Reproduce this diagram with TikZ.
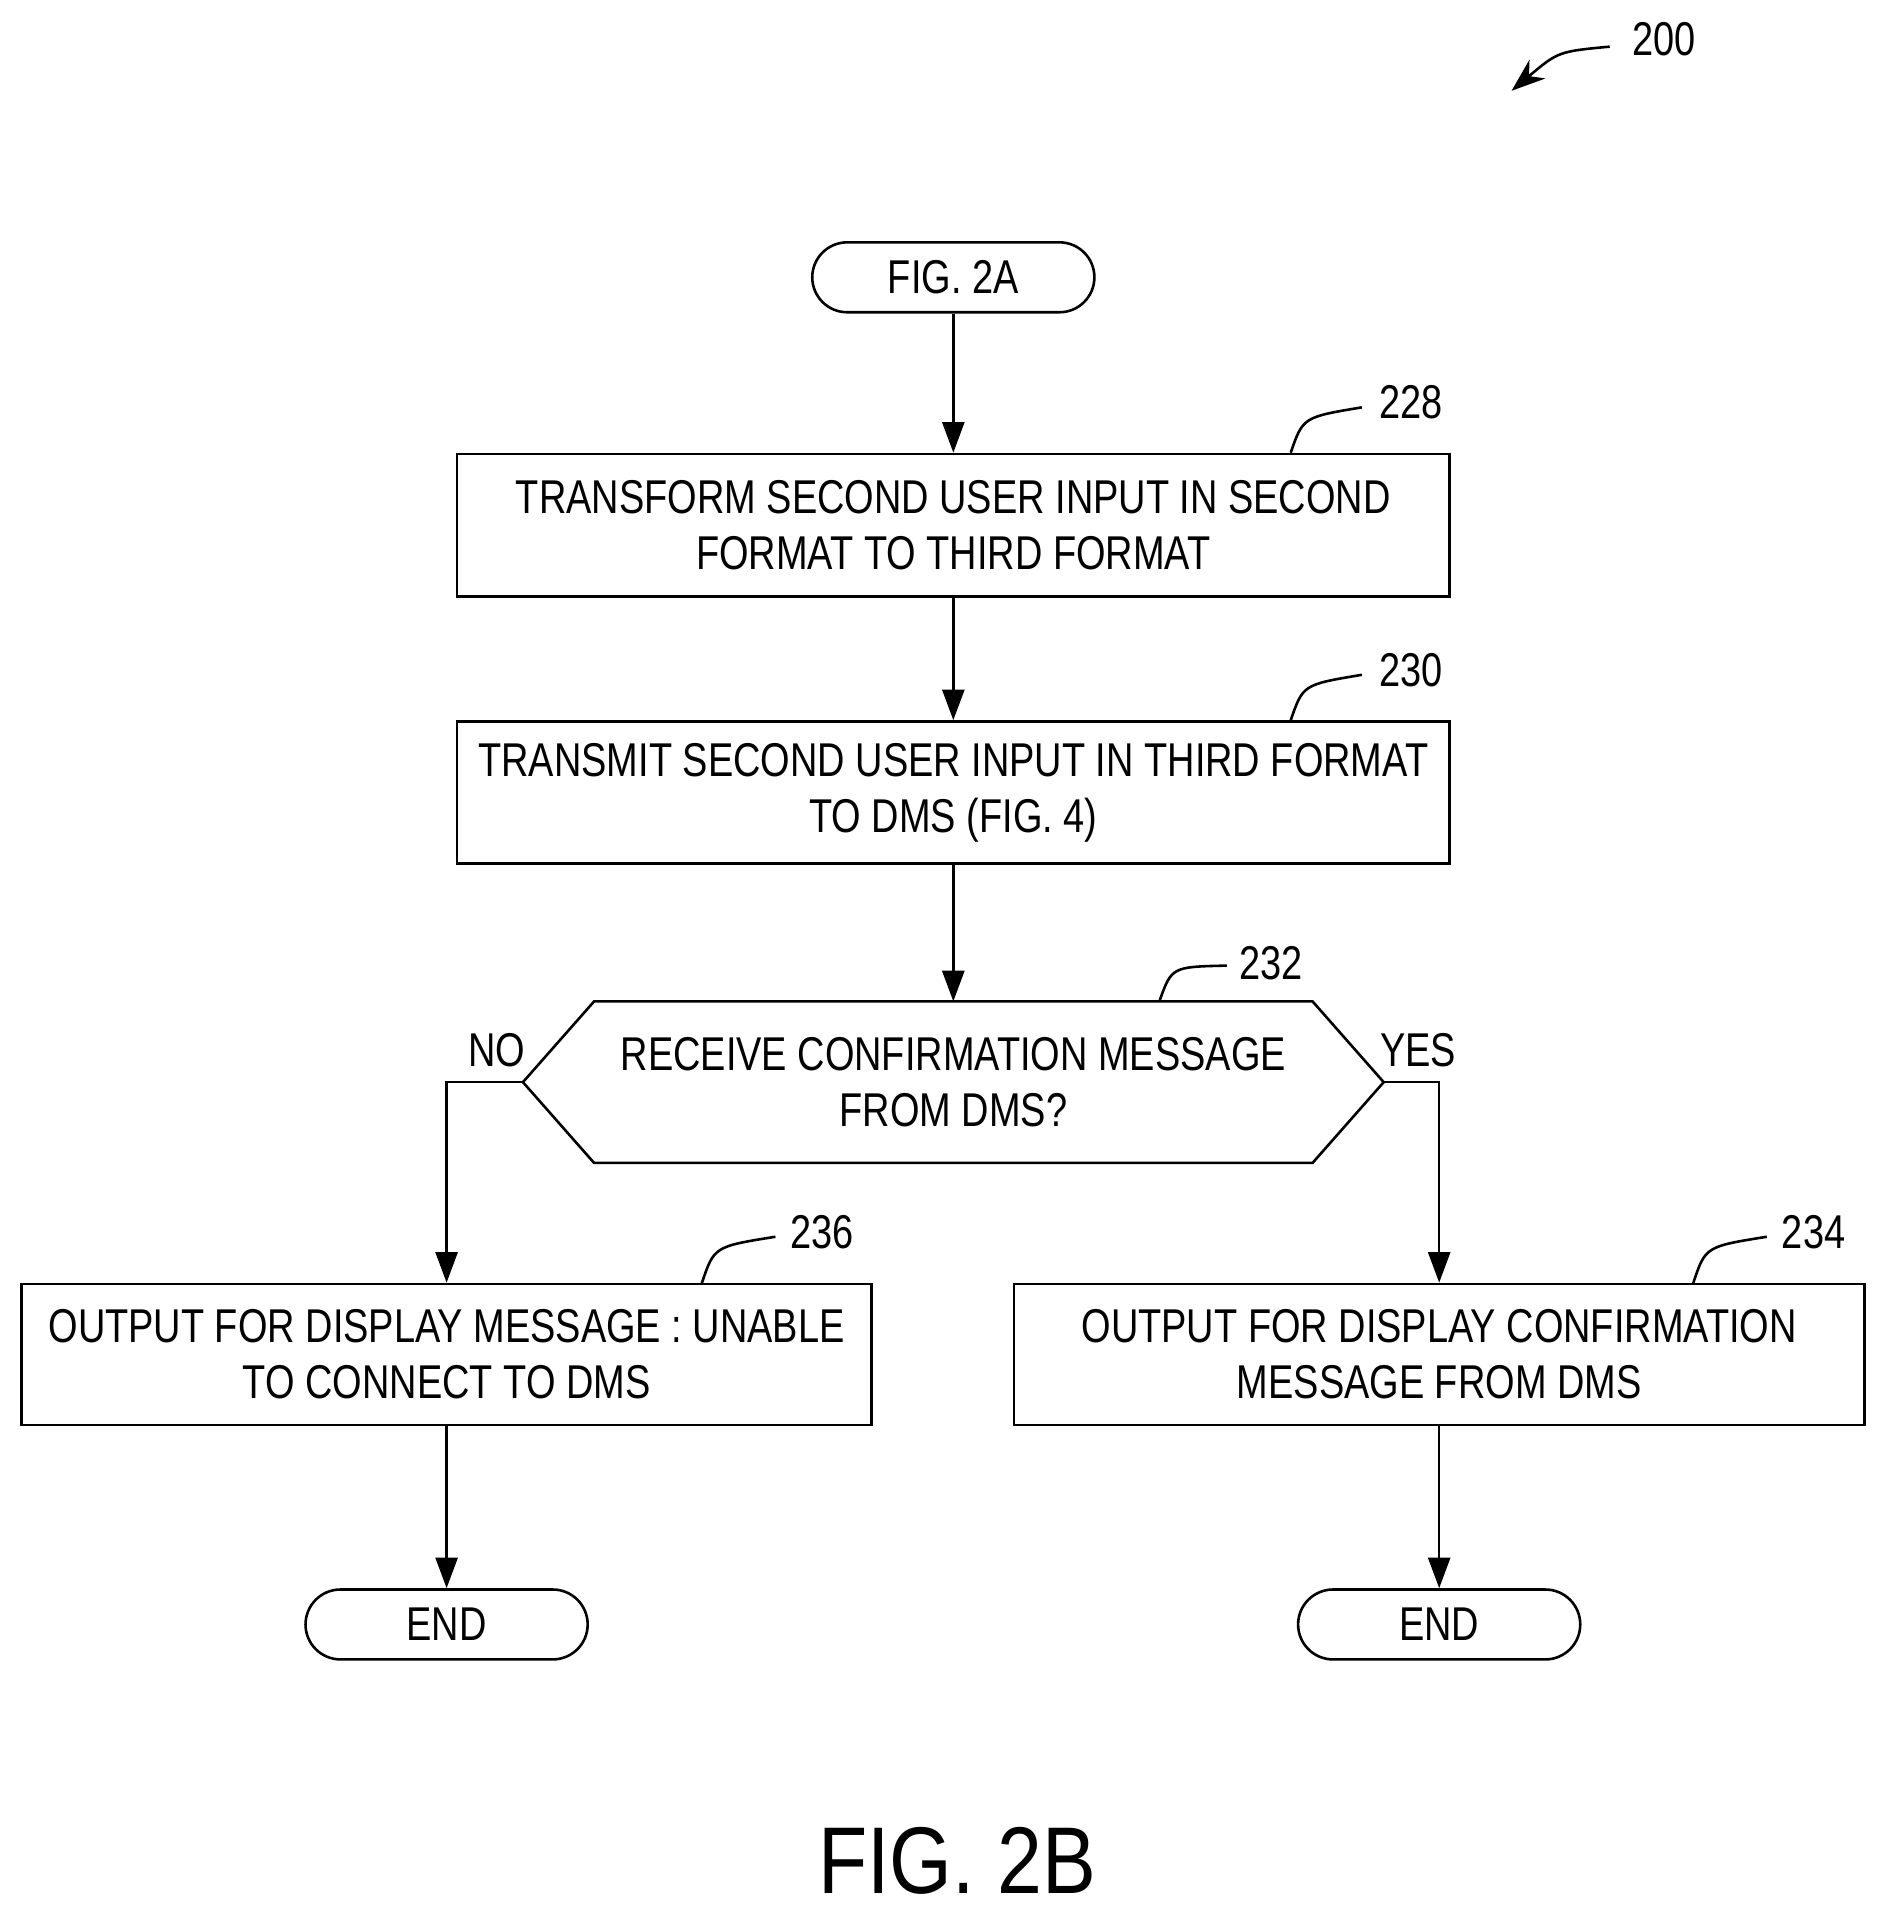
\documentclass[tikz,border=0pt]{standalone}
\usepackage{fontspec}
\setmainfont{Liberation Sans}[FakeStretch=0.8]
\newfontfamily\figfont{Liberation Sans}[FakeStretch=0.85]
\usetikzlibrary{arrows.meta,calc,positioning}
\tikzset{
  box/.style={draw,line width=1.2pt,minimum width=16.18cm,minimum height=2.32cm,align=center,inner sep=0pt},
  sidebox/.style={box,minimum width=13.86cm,minimum height=2.3cm},
  term/.style={draw,line width=1.2pt,rounded corners=0.57cm,minimum width=4.6cm,minimum height=1.14cm,inner sep=0pt},
  flow/.style={line width=1.2pt,-{Triangle[length=0.5cm,width=0.36cm]}},
  lead/.style={line width=1.2pt},
  ref/.style={anchor=west,inner sep=0pt},
}
\begin{document}
\fontsize{22}{26}\selectfont
\begin{tikzpicture}[x=0.02cm,y=-0.02cm]
\useasboundingbox (0,0) rectangle (1530,1560);
% figure number
\node[ref] (n200) at (1330,32) {200};
\coordinate (a200) at (1232,74);
\draw[lead,-{Stealth[length=0.55cm,width=0.4cm]}] (1312,38) .. controls (1270,42) .. (a200);
% nodes
\node[term] (start) at (777,226) {FIG. 2A};
\node[box] (b228) at (777,428) {TRANSFORM SECOND USER INPUT IN SECOND\\FORMAT TO THIRD FORMAT};
\node[box] (b230) at (777,646) {TRANSMIT SECOND USER INPUT IN THIRD FORMAT\\TO DMS (FIG. 4)};
\node[minimum width=14.02cm,minimum height=2.62cm,align=center,inner sep=0pt] (d232) at (777,882) {RECEIVE CONFIRMATION MESSAGE\\FROM DMS?};
\draw[line width=1.2pt] (d232.west) -- ($(d232.north west)+(58,0)$) -- ($(d232.north east)+(-58,0)$)
  -- (d232.east) -- ($(d232.south east)+(-58,0)$) -- ($(d232.south west)+(58,0)$) -- cycle;
\node[sidebox] (b236) at (364,1104) {OUTPUT FOR DISPLAY MESSAGE : UNABLE\\TO CONNECT TO DMS};
\node[sidebox] (b234) at (1173,1104) {OUTPUT FOR DISPLAY CONFIRMATION\\MESSAGE FROM DMS};
\node[term] (end1) at (364,1324) {END};
\node[term] (end2) at (1173,1324) {END};
% connectors
\draw[flow] (start) -- (b228);
\draw[flow] (b228) -- (b230);
\draw[flow] (b230) -- (d232);
\draw[flow] (d232.west) -| (b236.north);
\draw[flow] (d232.east) -| (b234.north);
\draw[flow] (b236) -- (end1);
\draw[flow] (b234) -- (end2);
\node (no) at (405,856) {NO};
\node (yes) at (1156,856) {YES};
% reference numerals
\node[ref] (n228) at (1124,328) {228};
\draw[lead] (1052,369) .. controls (1062,340) .. (1110,332);
\node[ref] (n230) at (1124,546) {230};
\draw[lead] (1052,587) .. controls (1062,558) .. (1110,550);
\node[ref] (n232) at (1010,785) {232};
\draw[lead] (945,816) .. controls (955,788) .. (1000,787);
\node[ref] (n236) at (644,1004) {236};
\draw[lead] (572,1046) .. controls (582,1016) .. (632,1008);
\node[ref] (n234) at (1452,1004) {234};
\draw[lead] (1380,1046) .. controls (1390,1016) .. (1440,1008);
% caption
\node[font=\figfont\fontsize{44}{48}\selectfont] (cap) at (780,1517) {FIG. 2B};
\end{tikzpicture}
\end{document}
